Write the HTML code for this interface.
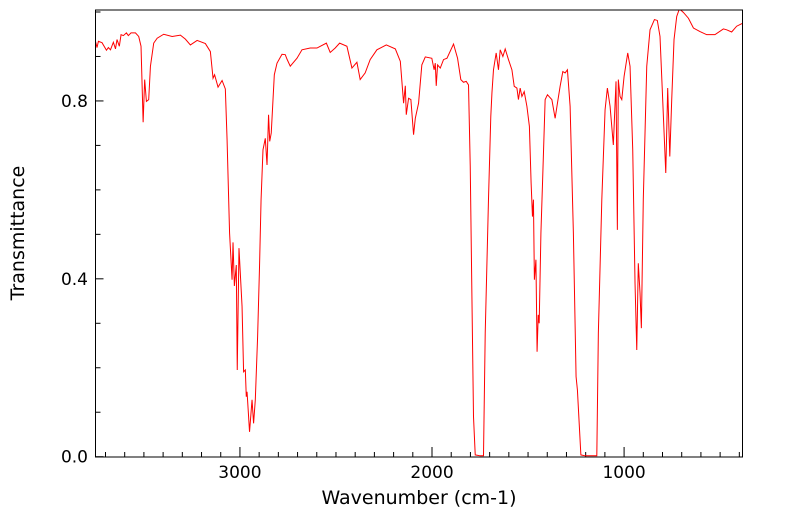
<!DOCTYPE html>
<html><head><meta charset="utf-8"><style>
html,body{margin:0;padding:0;background:#fff;}
svg{display:block;font-family:"DejaVu Sans","Liberation Sans",sans-serif;}
</style></head><body>
<svg id="chart" width="799" height="516" viewBox="0 0 799 516">
<defs><clipPath id="plotclip"><rect x="95" y="10" width="647.5" height="447"/></clipPath></defs>
<g id="axes"></g>
<path id="spectrum" fill="none" stroke="#ff0000" stroke-width="1" clip-path="url(#plotclip)"/>
<rect x="95.5" y="10" width="647" height="447" fill="none" stroke="#000" stroke-width="1"/>
<text x="419" y="504" font-size="19" text-anchor="middle">Wavenumber (cm-1)</text>
<text x="0" y="0" font-size="19" text-anchor="middle" transform="translate(24,233) rotate(-90)">Transmittance</text>
</svg>
<script>
const wavenumbers=[3752,3744,3737,3718,3695,3685,3674,3659,3648,3640,3628,3619,3607,3591,3581,3567,3544,3527,3515,3504,3496,3487,3475,3466,3449,3431,3397,3353,3310,3284,3258,3223,3180,3154,3140,3132,3114,3093,3076,3067,3054,3041,3036,3029,3019,3014,3005,2989,2981,2972,2967,2963,2950,2937,2929,2920,2908,2898,2890,2880,2868,2859,2851,2845,2837,2821,2807,2781,2764,2755,2738,2703,2677,2634,2599,2550,2530,2504,2481,2443,2417,2391,2374,2348,2322,2287,2238,2191,2165,2148,2139,2134,2122,2110,2096,2087,2070,2053,2035,2001,1989,1983,1978,1971,1957,1940,1922,1888,1867,1850,1836,1822,1810,1801,1792,1784,1775,1749,1732,1723,1706,1694,1688,1680,1666,1654,1645,1631,1619,1602,1584,1572,1558,1550,1541,1532,1520,1506,1493,1484,1477,1472,1467,1459,1453,1447,1442,1433,1423,1411,1399,1376,1359,1347,1333,1319,1307,1295,1281,1264,1250,1243,1225,1203,1142,1134,1116,1099,1087,1073,1056,1042,1035,1030,1021,1012,1000,981,969,955,943,934,926,917,910,900,882,865,842,827,813,799,783,773,762,752,740,726,712,691,665,639,605,570,527,483,466,440,414,382];
const transmittance=[0.934,0.920,0.934,0.931,0.914,0.920,0.915,0.932,0.917,0.938,0.923,0.949,0.947,0.953,0.947,0.953,0.953,0.945,0.923,0.752,0.848,0.799,0.803,0.878,0.930,0.941,0.950,0.945,0.948,0.939,0.926,0.936,0.929,0.911,0.851,0.859,0.831,0.846,0.827,0.713,0.503,0.398,0.482,0.384,0.431,0.195,0.469,0.338,0.191,0.195,0.135,0.146,0.056,0.128,0.075,0.128,0.270,0.428,0.578,0.690,0.716,0.656,0.769,0.709,0.728,0.859,0.885,0.905,0.904,0.894,0.878,0.896,0.915,0.919,0.919,0.930,0.909,0.919,0.930,0.923,0.874,0.887,0.848,0.863,0.893,0.915,0.926,0.917,0.889,0.795,0.834,0.769,0.806,0.803,0.724,0.761,0.795,0.881,0.899,0.896,0.870,0.885,0.834,0.881,0.874,0.893,0.896,0.928,0.896,0.848,0.842,0.844,0.836,0.653,0.353,0.090,0.004,0.002,0.002,0.278,0.578,0.765,0.818,0.870,0.908,0.870,0.915,0.900,0.917,0.893,0.870,0.833,0.829,0.803,0.829,0.810,0.821,0.788,0.743,0.615,0.540,0.578,0.398,0.443,0.236,0.319,0.300,0.503,0.638,0.803,0.814,0.803,0.761,0.795,0.833,0.866,0.863,0.870,0.788,0.503,0.180,0.150,0.004,0.002,0.002,0.278,0.578,0.780,0.829,0.788,0.701,0.844,0.510,0.848,0.810,0.803,0.855,0.908,0.878,0.690,0.390,0.240,0.435,0.368,0.289,0.578,0.878,0.960,0.983,0.981,0.945,0.803,0.638,0.829,0.675,0.803,0.938,0.990,1.007,0.999,0.986,0.964,0.956,0.949,0.949,0.962,0.960,0.955,0.968,0.975];
const xTickValues=[3000,2000,1000];
const xTickLabels=["3000","2000","1000"];
const yTickValues=[0.0,0.4,0.8];
const yTickLabels=["0.0","0.4","0.8"];

const X0=95.5,X1=742.5,Y0=456.7,Y1=10;
const W_LEFT=3752,W_RIGHT=383.5,T_BOT=0,T_TOP=1.0045;
function xs(w){return X0+(W_LEFT-w)/(W_LEFT-W_RIGHT)*(X1-X0);}
function ys(t){return Y0-(t-T_BOT)/(T_TOP-T_BOT)*(Y0-Y1);}
const NS="http://www.w3.org/2000/svg";
const axes=document.getElementById('axes');
function mk(tag,attrs){const e=document.createElementNS(NS,tag);for(const k in attrs)e.setAttribute(k,attrs[k]);return e;}

for(let w=3700;w>=400;w-=100){
  const major=(w%1000===0);
  const x=xs(w);
  const t=mk('line',{x1:x,x2:x,y1:457,y2:457-(major?10:5),stroke:'#000','stroke-width':1});
  
  
  axes.appendChild(t);
}
xTickValues.forEach((v,i)=>{
  const tx=mk('text',{x:xs(v),y:478,'font-size':17,'text-anchor':'middle'});
  tx.textContent=xTickLabels[i];
  
  
  axes.appendChild(tx);
});
for(let k=0;k<=10;k++){
  const v=k/10;
  const major=(k%4===0);
  const y=ys(v);
  const t=mk('line',{x1:95.5,x2:95.5+(major?8:5),y1:y,y2:y,stroke:'#000','stroke-width':1});
  
  
  axes.appendChild(t);
}
yTickValues.forEach((v,i)=>{
  const tx=mk('text',{x:88,y:ys(v)+6,'font-size':17,'text-anchor':'end'});
  tx.textContent=yTickLabels[i];
  
  
  axes.appendChild(tx);
});
let d='';
wavenumbers.forEach((w,i)=>{d+=(i?'L':'M')+xs(w).toFixed(2)+','+ys(transmittance[i]).toFixed(2);});
document.getElementById('spectrum').setAttribute('d',d);
</script>
</body></html>
